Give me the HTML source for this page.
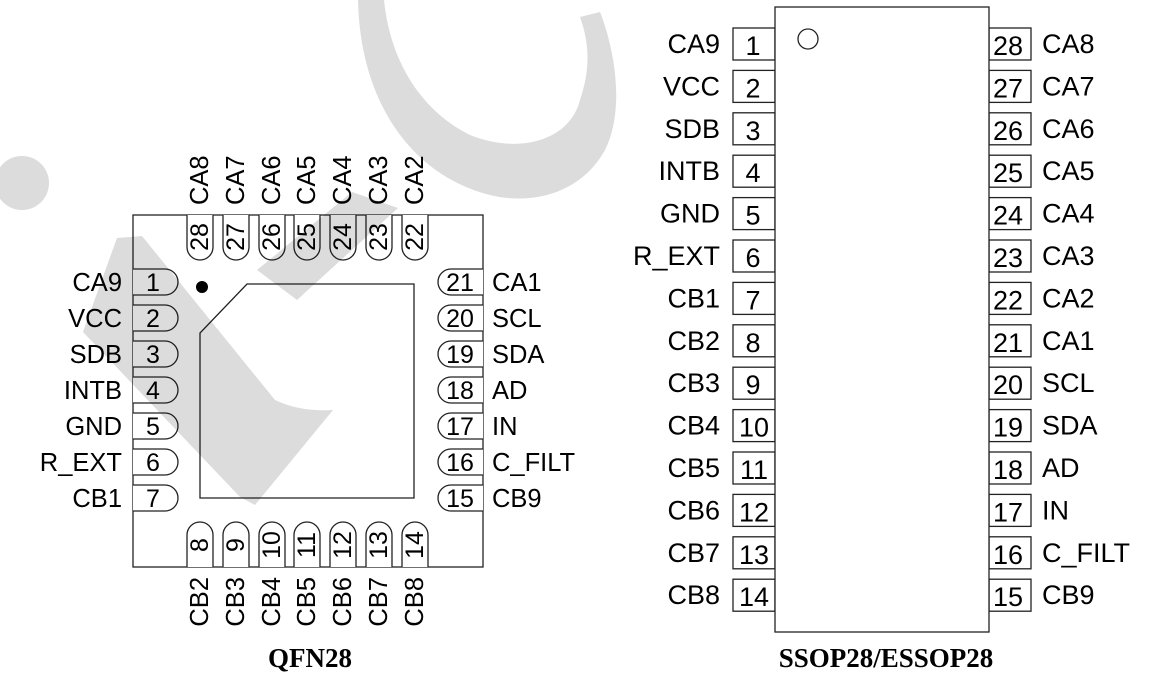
<!DOCTYPE html>
<html><head><meta charset="utf-8"><style>
html,body{margin:0;padding:0;background:#fff;}
svg{display:block;}
text{font-family:"Liberation Sans",sans-serif;fill:#000;}
.n{font-size:25px;}
.l{font-size:25.5px;}
.s{font-size:27px;}
.cap{font-family:"Liberation Serif",serif;font-weight:bold;font-size:27px;}
.wm{mix-blend-mode:multiply;}
</style></head><body>
<svg width="1172" height="686" viewBox="0 0 1172 686" xmlns="http://www.w3.org/2000/svg">
<g fill="#fff" stroke="#222" stroke-width="1.3">
<rect x="133" y="215" width="350" height="352"/>
<polygon points="247,284 414,284 414,498 200,498 200,333"/>
<path d="M133 269H165A13 13 0 0 1 165 295H133"/>
<path d="M133 305H165A13 13 0 0 1 165 331H133"/>
<path d="M133 341H165A13 13 0 0 1 165 367H133"/>
<path d="M133 377H165A13 13 0 0 1 165 403H133"/>
<path d="M133 413H165A13 13 0 0 1 165 439H133"/>
<path d="M133 449H165A13 13 0 0 1 165 475H133"/>
<path d="M133 485H165A13 13 0 0 1 165 511H133"/>
<path d="M483 269H451A13 13 0 0 0 451 295H483"/>
<path d="M483 305H451A13 13 0 0 0 451 331H483"/>
<path d="M483 341H451A13 13 0 0 0 451 367H483"/>
<path d="M483 377H451A13 13 0 0 0 451 403H483"/>
<path d="M483 413H451A13 13 0 0 0 451 439H483"/>
<path d="M483 449H451A13 13 0 0 0 451 475H483"/>
<path d="M483 485H451A13 13 0 0 0 451 511H483"/>
<path d="M187 215V247A13 13 0 0 0 213 247V215"/>
<path d="M223 215V247A13 13 0 0 0 249 247V215"/>
<path d="M259 215V247A13 13 0 0 0 285 247V215"/>
<path d="M294 215V247A13 13 0 0 0 320 247V215"/>
<path d="M330 215V247A13 13 0 0 0 356 247V215"/>
<path d="M366 215V247A13 13 0 0 0 392 247V215"/>
<path d="M402 215V247A13 13 0 0 0 428 247V215"/>
<path d="M187 567V535A13 13 0 0 1 213 535V567"/>
<path d="M223 567V535A13 13 0 0 1 249 535V567"/>
<path d="M259 567V535A13 13 0 0 1 285 535V567"/>
<path d="M294 567V535A13 13 0 0 1 320 535V567"/>
<path d="M330 567V535A13 13 0 0 1 356 535V567"/>
<path d="M366 567V535A13 13 0 0 1 392 535V567"/>
<path d="M402 567V535A13 13 0 0 1 428 535V567"/>
</g>
<g class="wm" fill="#dcdcdc" stroke="none">
<circle cx="22" cy="183" r="27"/>
<polygon points="257,270 297,300 398,208 352,192"/>
<path d="M117,238 L142,236 L275,400 Q300,412 333,410 L255,505 L240,497 L83,332 Z"/>
<path d="M358,0 L384,0 C390,60 420,110 470,135 C520,155 570,140 580,100 C590,70 590,45 580,17 L600,12 C615,50 625,110 605,150 C580,195 530,205 490,195 C410,175 360,100 358,0 Z"/>
</g>
<circle cx="202" cy="287" r="6" fill="#000"/>
<g class="n" text-anchor="middle">
<text x="153" y="291">1</text><text x="153" y="327">2</text><text x="153" y="363">3</text><text x="153" y="399">4</text><text x="153" y="435">5</text><text x="153" y="471">6</text><text x="153" y="507">7</text>
<text x="460" y="291">21</text><text x="460" y="327">20</text><text x="460" y="363">19</text><text x="460" y="399">18</text><text x="460" y="435">17</text><text x="460" y="471">16</text><text x="460" y="507">15</text>
</g>
<g class="l" text-anchor="end">
<text x="122" y="291">CA9</text><text x="122" y="327">VCC</text><text x="122" y="363">SDB</text><text x="122" y="399">INTB</text><text x="122" y="435">GND</text><text x="122" y="471">R_EXT</text><text x="122" y="507">CB1</text>
</g>
<g class="l">
<text x="492" y="291">CA1</text><text x="492" y="327">SCL</text><text x="492" y="363">SDA</text><text x="492" y="399">AD</text><text x="492" y="435">IN</text><text x="492" y="471">C_FILT</text><text x="492" y="507">CB9</text>
</g>
<g class="n" text-anchor="middle">
<text transform="translate(208,237) rotate(-90)">28</text>
<text transform="translate(244,237) rotate(-90)">27</text>
<text transform="translate(280,237) rotate(-90)">26</text>
<text transform="translate(315,237) rotate(-90)">25</text>
<text transform="translate(351,237) rotate(-90)">24</text>
<text transform="translate(387,237) rotate(-90)">23</text>
<text transform="translate(423,237) rotate(-90)">22</text>
<text transform="translate(208,545) rotate(-90)">8</text>
<text transform="translate(244,545) rotate(-90)">9</text>
<text transform="translate(280,545) rotate(-90)">10</text>
<text transform="translate(315,545) rotate(-90)">11</text>
<text transform="translate(351,545) rotate(-90)">12</text>
<text transform="translate(387,545) rotate(-90)">13</text>
<text transform="translate(423,545) rotate(-90)">14</text>
</g>
<g class="l">
<text transform="translate(208,205) rotate(-90)">CA8</text>
<text transform="translate(244,205) rotate(-90)">CA7</text>
<text transform="translate(280,205) rotate(-90)">CA6</text>
<text transform="translate(315,205) rotate(-90)">CA5</text>
<text transform="translate(351,205) rotate(-90)">CA4</text>
<text transform="translate(387,205) rotate(-90)">CA3</text>
<text transform="translate(423,205) rotate(-90)">CA2</text>
</g>
<g class="l" text-anchor="end">
<text transform="translate(208,577) rotate(-90)">CB2</text>
<text transform="translate(244,577) rotate(-90)">CB3</text>
<text transform="translate(280,577) rotate(-90)">CB4</text>
<text transform="translate(315,577) rotate(-90)">CB5</text>
<text transform="translate(351,577) rotate(-90)">CB6</text>
<text transform="translate(387,577) rotate(-90)">CB7</text>
<text transform="translate(423,577) rotate(-90)">CB8</text>
</g>
<text class="cap" x="310" y="667" text-anchor="middle">QFN28</text>

<g fill="#fff" stroke="#222" stroke-width="1.3">
<rect x="733" y="28" width="42" height="32"/><rect x="733" y="70.4" width="42" height="32"/><rect x="733" y="112.8" width="42" height="32"/><rect x="733" y="155.2" width="42" height="32"/><rect x="733" y="197.6" width="42" height="32"/><rect x="733" y="240" width="42" height="32"/><rect x="733" y="282.4" width="42" height="32"/><rect x="733" y="324.8" width="42" height="32"/><rect x="733" y="367.2" width="42" height="32"/><rect x="733" y="409.6" width="42" height="32"/><rect x="733" y="452" width="42" height="32"/><rect x="733" y="494.4" width="42" height="32"/><rect x="733" y="536.8" width="42" height="32"/><rect x="733" y="579.2" width="42" height="32"/>
<rect x="989" y="28" width="42" height="32"/><rect x="989" y="70.4" width="42" height="32"/><rect x="989" y="112.8" width="42" height="32"/><rect x="989" y="155.2" width="42" height="32"/><rect x="989" y="197.6" width="42" height="32"/><rect x="989" y="240" width="42" height="32"/><rect x="989" y="282.4" width="42" height="32"/><rect x="989" y="324.8" width="42" height="32"/><rect x="989" y="367.2" width="42" height="32"/><rect x="989" y="409.6" width="42" height="32"/><rect x="989" y="452" width="42" height="32"/><rect x="989" y="494.4" width="42" height="32"/><rect x="989" y="536.8" width="42" height="32"/><rect x="989" y="579.2" width="42" height="32"/>
<rect x="775" y="7" width="214" height="625"/>
<circle cx="808" cy="39" r="10"/>
</g>
<g class="s" text-anchor="middle">
<text x="753" y="55">1</text><text x="753" y="97.4">2</text><text x="753" y="139.8">3</text><text x="753" y="182.2">4</text><text x="753" y="224.6">5</text><text x="753" y="267">6</text><text x="753" y="309.4">7</text><text x="753" y="351.8">8</text><text x="753" y="394.2">9</text><text x="754" y="436.6">10</text><text x="754" y="479">11</text><text x="754" y="521.4">12</text><text x="754" y="563.8">13</text><text x="754" y="606.2">14</text>
<text x="1008" y="55">28</text><text x="1008" y="97.4">27</text><text x="1008" y="139.8">26</text><text x="1008" y="182.2">25</text><text x="1008" y="224.6">24</text><text x="1008" y="267">23</text><text x="1008" y="309.4">22</text><text x="1008" y="351.8">21</text><text x="1008" y="394.2">20</text><text x="1008" y="436.6">19</text><text x="1008" y="479">18</text><text x="1008" y="521.4">17</text><text x="1008" y="563.8">16</text><text x="1008" y="606.2">15</text>
</g>
<g class="s" text-anchor="end">
<text x="720" y="53">CA9</text><text x="720" y="95.4">VCC</text><text x="720" y="137.8">SDB</text><text x="720" y="180.2">INTB</text><text x="720" y="222.6">GND</text><text x="720" y="265">R_EXT</text><text x="720" y="307.4">CB1</text><text x="720" y="349.8">CB2</text><text x="720" y="392.2">CB3</text><text x="720" y="434.6">CB4</text><text x="720" y="477">CB5</text><text x="720" y="519.4">CB6</text><text x="720" y="561.8">CB7</text><text x="720" y="604.2">CB8</text>
</g>
<g class="s">
<text x="1042" y="53">CA8</text><text x="1042" y="95.4">CA7</text><text x="1042" y="137.8">CA6</text><text x="1042" y="180.2">CA5</text><text x="1042" y="222.6">CA4</text><text x="1042" y="265">CA3</text><text x="1042" y="307.4">CA2</text><text x="1042" y="349.8">CA1</text><text x="1042" y="392.2">SCL</text><text x="1042" y="434.6">SDA</text><text x="1042" y="477">AD</text><text x="1042" y="519.4">IN</text><text x="1042" y="561.8">C_FILT</text><text x="1042" y="604.2">CB9</text>
</g>
<text class="cap" x="886" y="667" text-anchor="middle">SSOP28/ESSOP28</text>
</svg>
</body></html>
